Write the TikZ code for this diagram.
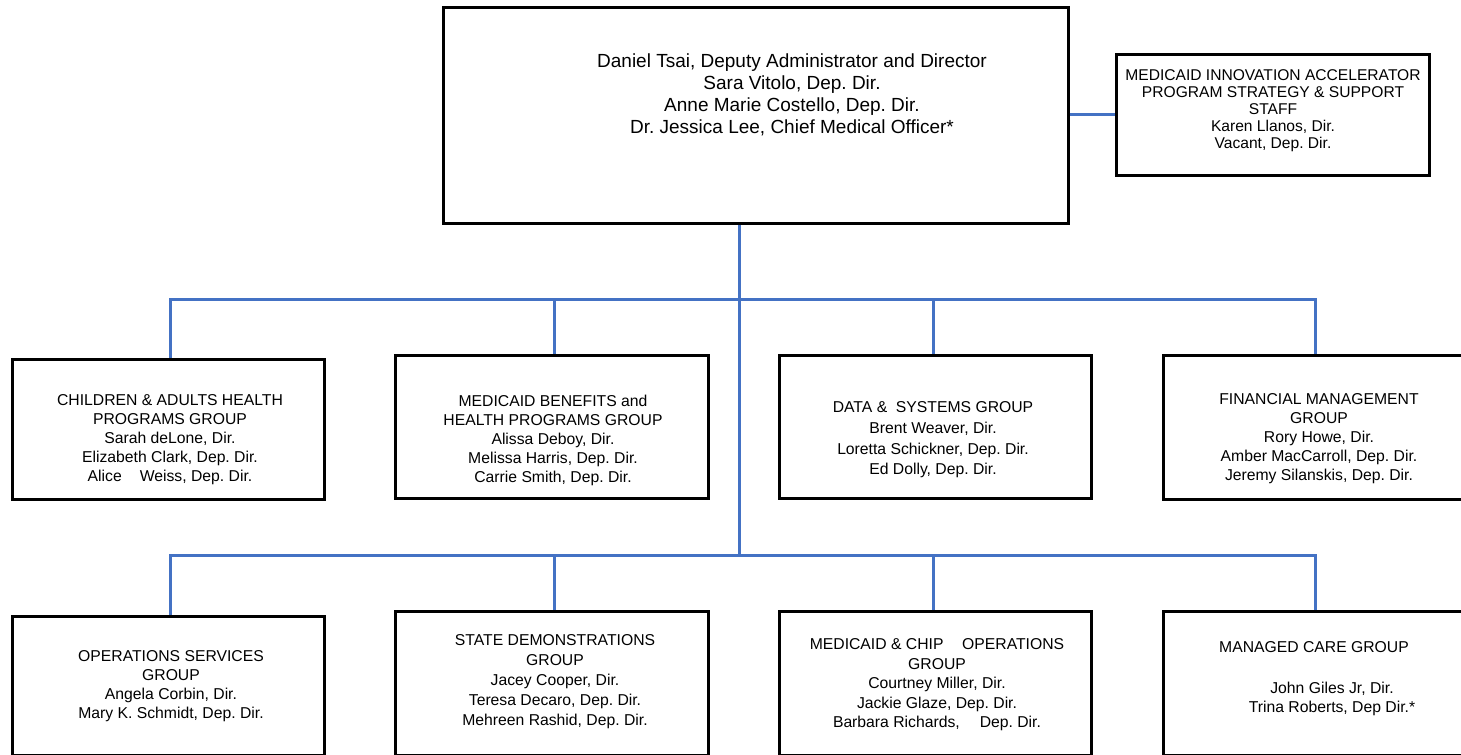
\documentclass[tikz,border=0pt]{standalone}
\usepackage{fontspec}
\setmainfont{Liberation Sans}
\definecolor{linkblue}{RGB}{68,114,196}
\begin{document}
\frenchspacing
\begin{tikzpicture}[x=0.75pt,y=-0.75pt,
  box/.style={draw=black,line width=2.25pt,inner sep=0pt},
  link/.style={draw=linkblue,line width=2.25pt},
  txt/.style={align=center,inner sep=0pt,anchor=north,font=\fontsize{11.8}{14.25}\selectfont}]
\useasboundingbox (0,0) rectangle (1461,754);
\clip (0,0) rectangle (1461,754);
% Draw the boxes, the pixel grid of the chart is the coordinate system
\node[box,minimum width=468.75pt,minimum height=162pt] (top) at (755.5,115) {};
\node[box,minimum width=234.75pt,minimum height=90.75pt] (miap) at (1272.5,114.5) {};
\node[box,minimum width=234pt,minimum height=105pt] (b1) at (168,429) {};
\node[box,minimum width=234.75pt,minimum height=107.25pt] (b2) at (551.5,426.5) {};
\node[box,minimum width=234pt,minimum height=107.25pt] (b3) at (935,426.5) {};
\node[box,minimum width=225pt,minimum height=108pt] (b4) at (1313,427) {};
\node[box,minimum width=234pt,minimum height=104.25pt] (b5) at (168,685.5) {};
\node[box,minimum width=234.75pt,minimum height=108pt] (b6) at (551.5,683) {};
\node[box,minimum width=234pt,minimum height=108pt] (b7) at (935,683) {};
\node[box,minimum width=225pt,minimum height=108pt] (b8) at (1313,683) {};

% Text of the boxes
\node[txt,font=\fontsize{14.25}{16.5}\selectfont] (ttop) at (792,53)
  {Daniel Tsai, Deputy Administrator and Director\\Sara Vitolo, Dep. Dir.\\Anne Marie Costello, Dep. Dir.\\Dr. Jessica Lee, Chief Medical Officer*};
\node[txt,font=\fontsize{11.7}{12.75}\selectfont] (tmiap) at (1273,69.5)
  {MEDICAID INNOVATION ACCELERATOR\\PROGRAM STRATEGY \& SUPPORT\\STAFF\\Karen Llanos, Dir.\\Vacant, Dep. Dir.};
\node[txt] (t1) at (170,394.5)
  {CHILDREN \& ADULTS HEALTH\\PROGRAMS GROUP\\Sarah deLone, Dir.\\Elizabeth Clark, Dep. Dir.\\Alice\hspace{13.5pt}Weiss, Dep. Dir.};
\node[txt] (t2) at (553,394.5)
  {MEDICAID BENEFITS and\\HEALTH PROGRAMS GROUP\\Alissa Deboy, Dir.\\Melissa Harris, Dep. Dir.\\Carrie Smith, Dep. Dir.};
\node[txt,font=\fontsize{11.8}{15.5}\selectfont] (t3) at (933,401.5)
  {DATA \&\ \ SYSTEMS GROUP\\Brent Weaver, Dir.\\Loretta Schickner, Dep. Dir.\\Ed Dolly, Dep. Dir.};
\node[txt] (t4) at (1319,393.5)
  {FINANCIAL MANAGEMENT\\GROUP\\Rory Howe, Dir.\\Amber MacCarroll, Dep. Dir.\\Jeremy Silanskis, Dep. Dir.};
\node[txt] (t5) at (171,650.5)
  {OPERATIONS SERVICES\\GROUP\\Angela Corbin, Dir.\\Mary K. Schmidt, Dep. Dir.};
\node[txt,font=\fontsize{11.8}{15}\selectfont] (t6) at (555,634.5)
  {STATE DEMONSTRATIONS\\GROUP\\Jacey Cooper, Dir.\\Teresa Decaro, Dep. Dir.\\Mehreen Rashid, Dep. Dir.};
\node[txt,font=\fontsize{11.8}{14.6}\selectfont] (t7) at (937,638.5)
  {MEDICAID \& CHIP\hspace{14pt}OPERATIONS\\GROUP\\Courtney Miller, Dir.\\Jackie Glaze, Dep. Dir.\\Barbara Richards,\hspace{15pt}Dep. Dir.};
\node[txt] (t8) at (1314,641.5) {MANAGED CARE GROUP};
\node[txt] (t8b) at (1332,681.5) {John Giles Jr, Dir.\\Trina Roberts, Dep Dir.*};

% Draw the connectors
\coordinate (hub1) at (739,299);
\coordinate (hub2) at (739,555);
\draw[link] (top.east |- miap.west) -- (miap.west);
\draw[link] (top.south -| hub1) -- (hub2);
% Bus lines and the drops to each group
\coordinate (d1) at (170,299);
\coordinate (d2) at (554,299);
\coordinate (d3) at (933,299);
\coordinate (d4) at (1315,299);
\coordinate (e1) at (170,555);
\coordinate (e2) at (554,555);
\coordinate (e3) at (933,555);
\coordinate (e4) at (1315,555);
\draw[link] (d1) -- (d4);
\draw[link] (e1) -- (e4);
\foreach \i [evaluate=\i as \j using int(\i+4)] in {1,...,4}
{
  \draw[link] ([yshift=0.75pt]d\i) -- (d\i |- b\i.north);
  \draw[link] ([yshift=0.75pt]e\i) -- (e\i |- b\j.north);
}
\end{tikzpicture}
\end{document}
